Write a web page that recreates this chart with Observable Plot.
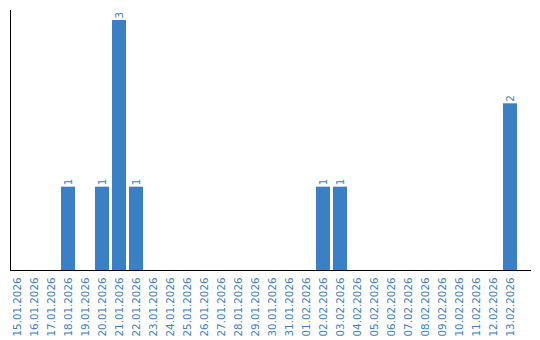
<!DOCTYPE html>
<html>
<head>
<meta charset="utf-8">
<script src="https://cdn.jsdelivr.net/npm/d3@7"></script>
<script src="https://cdn.jsdelivr.net/npm/@observablehq/plot@0.6"></script>
<style>
  html, body { margin: 0; padding: 0; background: #fff; }
  #chart svg { display: block; }
</style>
</head>
<body>
<div id="chart"></div>
<script>
const dates = [
  "15.01.2026","16.01.2026","17.01.2026","18.01.2026","19.01.2026","20.01.2026",
  "21.01.2026","22.01.2026","23.01.2026","24.01.2026","25.01.2026","26.01.2026",
  "27.01.2026","28.01.2026","29.01.2026","30.01.2026","31.01.2026","01.02.2026",
  "02.02.2026","03.02.2026","04.02.2026","05.02.2026","06.02.2026","07.02.2026",
  "08.02.2026","09.02.2026","10.02.2026","11.02.2026","12.02.2026","13.02.2026"
];
const counts = [
  0,0,0,1,0,1,
  3,1,0,0,0,0,
  0,0,0,0,0,0,
  1,1,0,0,0,0,
  0,0,0,0,0,2
];

const data = dates.map((d, i) => ({date: d, value: counts[i]}));
const blue = "#3b7fc4";

const chart = Plot.plot({
  width: 540,
  height: 340,
  marginLeft: 10,
  marginRight: 23,
  marginTop: 10,
  marginBottom: 70,
  style: {fontFamily: "'DejaVu Sans', sans-serif", fontSize: "10px", background: "#fff"},
  x: {domain: dates, paddingInner: 0.18, paddingOuter: 0, label: null},
  y: {domain: [0, 3], insetTop: 10, axis: null},
  marks: [
    Plot.barY(data, {x: "date", y: "value", fill: blue}),
    Plot.text(data.filter(d => d.value > 0), {
      x: "date", y: "value", text: d => String(d.value),
      rotate: -90, textAnchor: "start", lineAnchor: "middle",
      dy: -2, fill: blue, fontSize: 10.3
    }),
    Plot.axisX({tickRotate: -90, tickSize: 0, tickPadding: 7, fill: blue, fontSize: 10.3, label: null}),
    Plot.frame({anchor: "left", stroke: "#000", strokeWidth: 1}),
    Plot.frame({anchor: "bottom", stroke: "#000", strokeWidth: 1, insetRight: -13})
  ]
});
document.getElementById("chart").appendChild(chart);
</script>
</body>
</html>
